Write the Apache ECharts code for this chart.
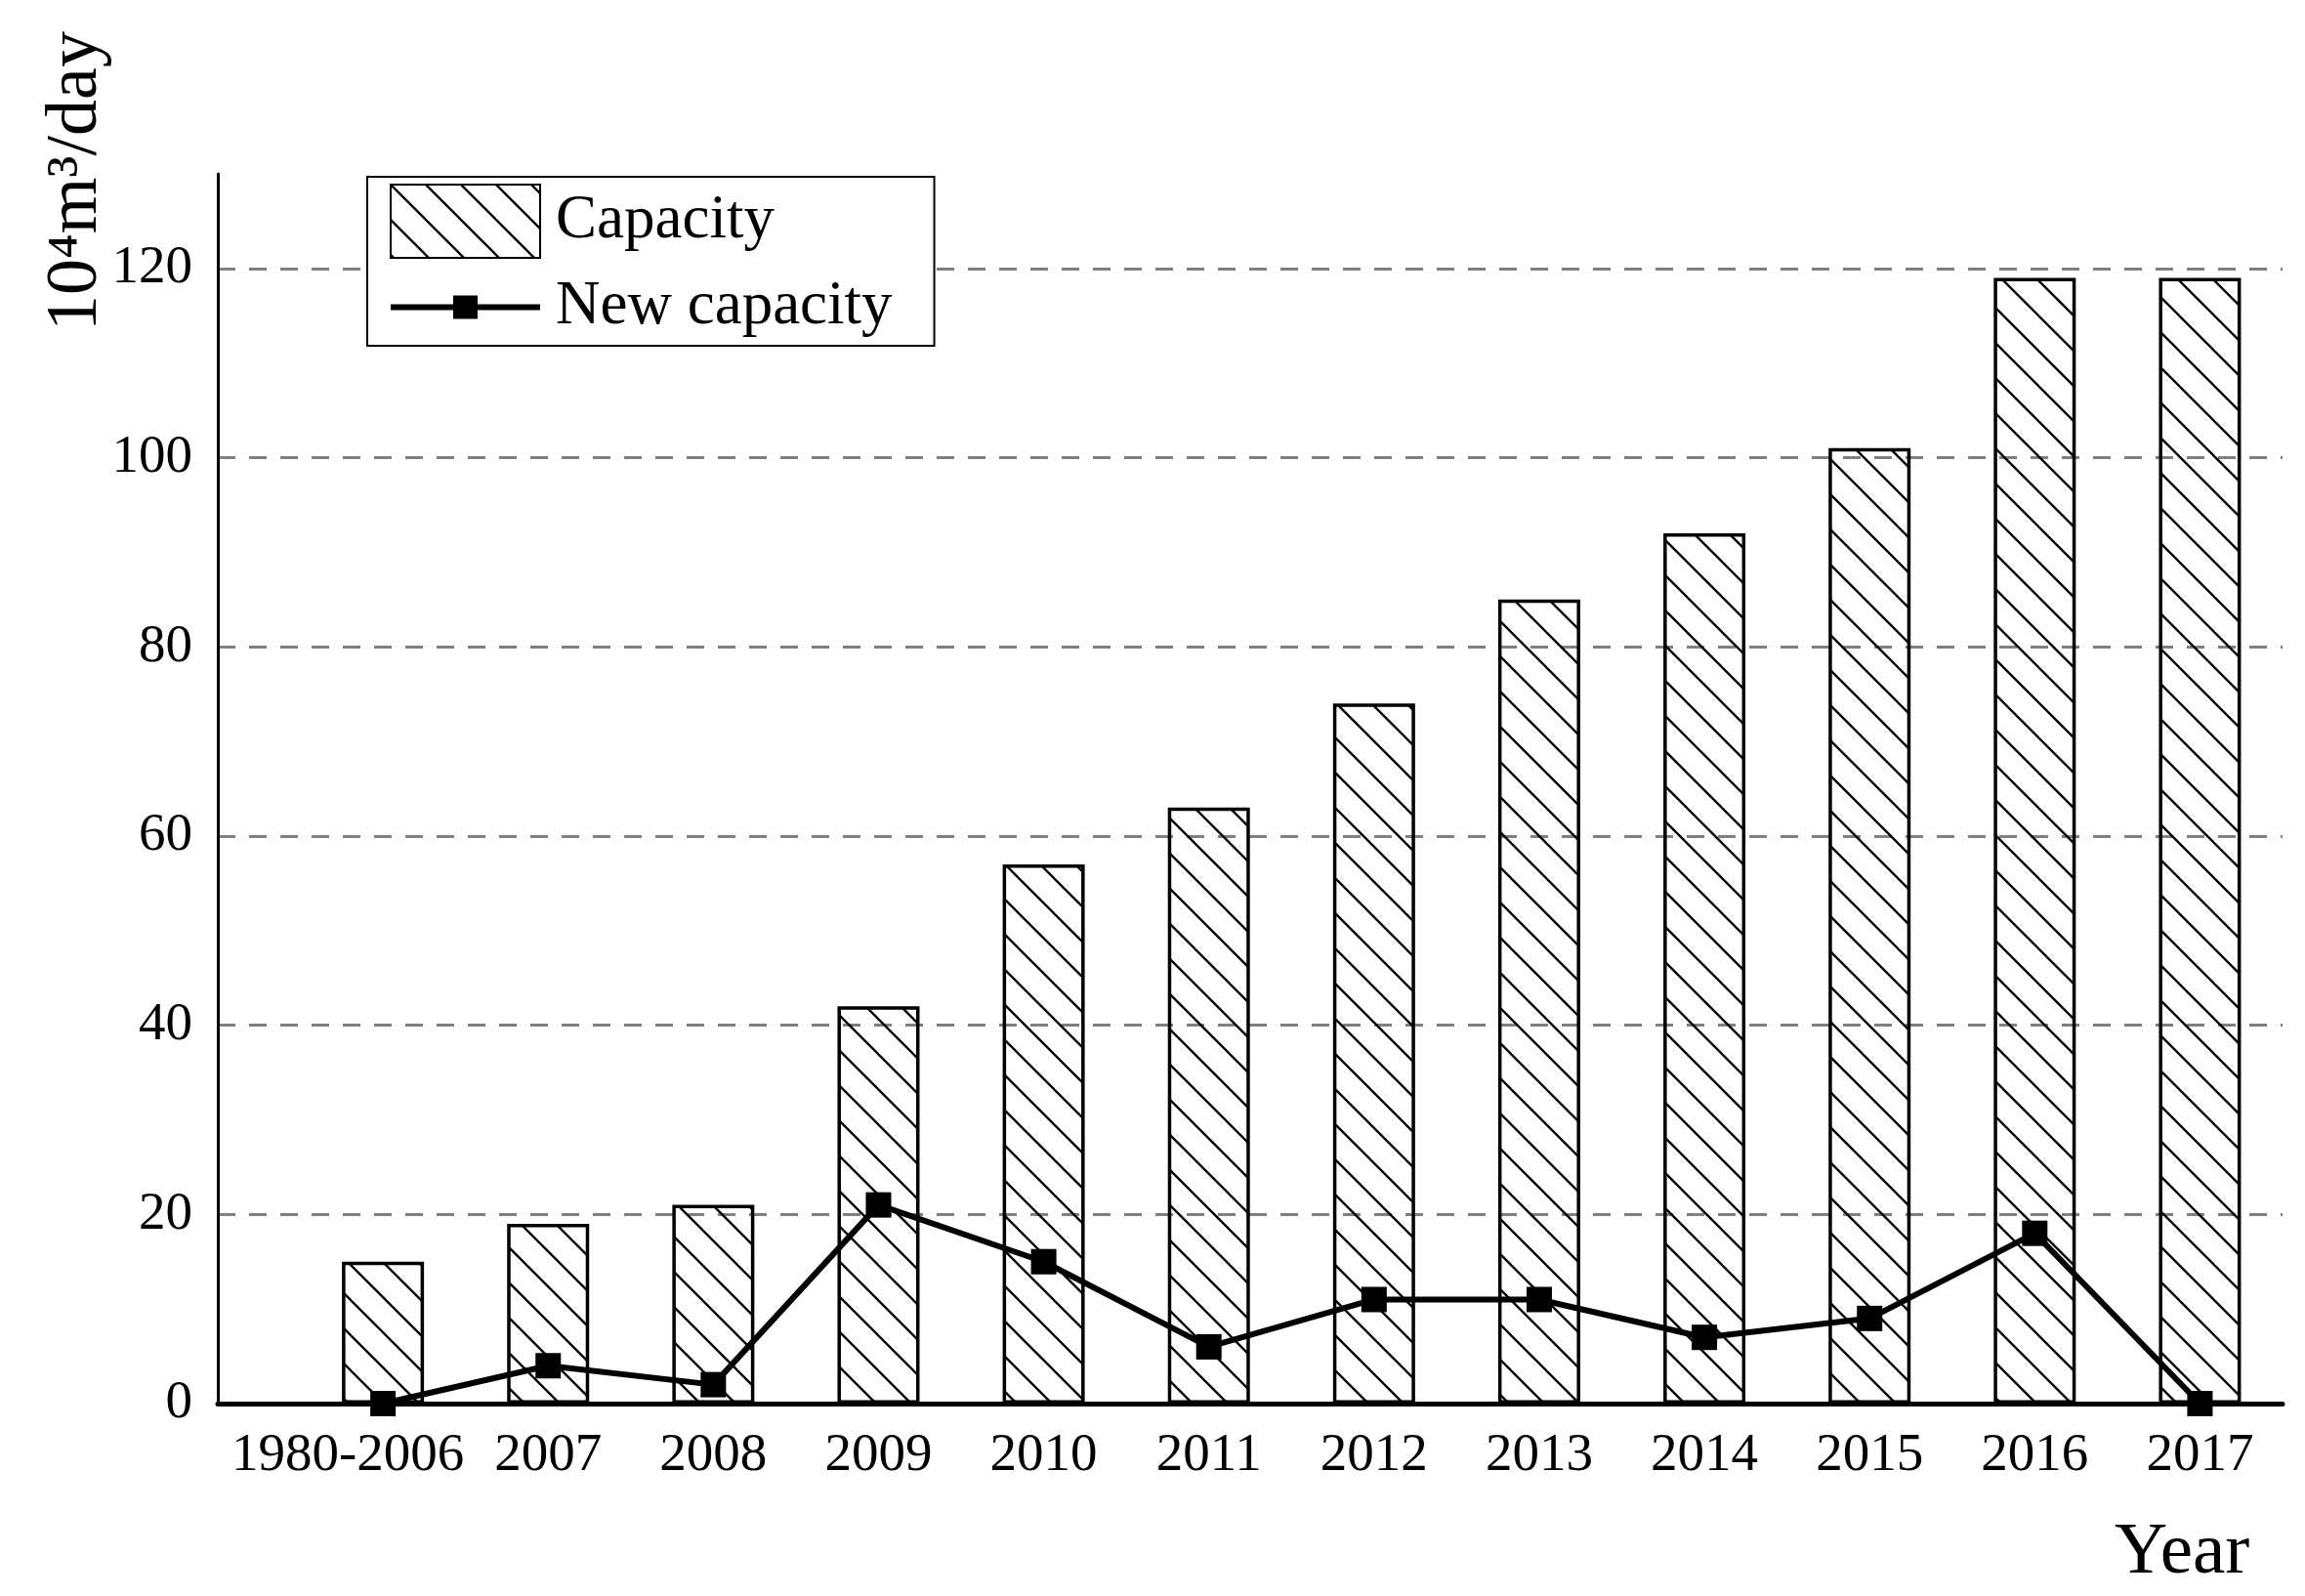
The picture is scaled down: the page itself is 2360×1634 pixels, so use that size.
<!DOCTYPE html>
<html><head><meta charset="utf-8">
<script src="https://cdn.jsdelivr.net/npm/echarts@6/dist/echarts.min.js"></script>
<style>html,body{margin:0;padding:0;background:#fff}#c{width:2360px;height:1634px}</style>
</head><body><div id="c"></div>
<script>
const categories = ['1980-2006','2007','2008','2009','2010','2011','2012','2013','2014','2015','2016','2017'];
const capacity = [15,19,21,42,57,63,74,85,92,101,119,119];
const newCapacity = [0,4,2,21,15,6,11,11,7,9,18,0];

const FONT = '"Liberation Serif","DejaVu Serif",serif';

// hatch pattern "\\\"
const pc = document.createElement('canvas');
pc.width = 36; pc.height = 36;
const g = pc.getContext('2d');
g.strokeStyle = '#000'; g.lineWidth = 2.4;
for (let k = -1; k <= 1; k++) {
  g.beginPath(); g.moveTo(k*36 - 2, -2); g.lineTo(k*36 + 38, 38); g.stroke();
}

const chart = echarts.init(document.getElementById('c'));
chart.setOption({
  backgroundColor: '#fff',
  animation: false,
  grid: { left: 223, right: 23, top: 178, bottom: 197, containLabel: false, outerBoundsMode: 'none' },
  legend: {
    left: 376, top: 181, orient: 'vertical',
    borderColor: '#000', borderWidth: 2, backgroundColor: '#fff',
    padding: [7, 43, 8, 23], itemGap: 18, itemWidth: 153, itemHeight: 75,
    textStyle: { fontFamily: FONT, fontSize: 63, color: '#000', padding: [0,0,0,11] },
    data: [
      { name: 'Capacity', icon: 'rect' },
      { name: 'New capacity', icon: 'path://M0,9h153v6H0z M64,0h25v24H64z' }
    ]
  },
  xAxis: {
    type: 'value', min: -1, max: 11.5, interval: 1,
    name: 'Year', nameLocation: 'end', nameGap: -172, nameMoveOverlap: false,
    nameTextStyle: { fontFamily: FONT, fontSize: 75, color: '#000', verticalAlign: 'top', lineHeight: 306 },
    axisLine: { onZero: false, lineStyle: { color: '#000', width: 5 } },
    axisTick: { show: false },
    splitLine: { show: false },
    axisLabel: {
      fontFamily: FONT, fontSize: 55, color: '#000', margin: 26,
      showMinLabel: true, showMaxLabel: true, hideOverlap: false,
      formatter: v => {
        if (!(Number.isInteger(v) && v >= 0 && v < categories.length)) return '';
        return v === 0 ? '{f|' + categories[v] + '}' : categories[v];
      },
      rich: { f: { fontFamily: FONT, fontSize: 55, color: '#000', padding: [0, 72, 0, 0] } }
    }
  },
  yAxis: {
    type: 'value', min: 0, max: 130, interval: 20,
    name: '10\u2074m\u00b3/day', nameLocation: 'end', nameRotate: 90, nameGap: -161, nameMoveOverlap: false,
    nameTextStyle: { fontFamily: FONT, fontSize: 74, color: '#000', verticalAlign: 'bottom', lineHeight: 288 },
    axisLine: { show: true, onZero: false, lineStyle: { color: '#000', width: 3 } },
    axisTick: { show: false },
    axisLabel: {
      fontFamily: FONT, fontSize: 55, color: '#000', margin: 26,
      formatter: v => (v % 20 === 0) ? String(v) : ''
    },
    splitLine: {
      show: true, showMinLine: false, showMaxLine: false,
      lineStyle: { color: '#808080', width: 3, type: [18, 14] }
    }
  },
  series: [
    {
      name: 'Capacity', type: 'bar', barWidth: 84, z: 2,
      data: capacity.map((v, i) => [i, v]),
      itemStyle: { color: { image: pc, repeat: 'repeat' }, borderColor: '#000', borderWidth: 3.5 }
    },
    {
      name: 'New capacity', type: 'line', z: 5,
      data: newCapacity.map((v, i) => [i, v]),
      symbol: 'rect', symbolSize: 26,
      lineStyle: { color: '#000', width: 6 },
      itemStyle: { color: '#000' }
    }
  ]
});
</script></body></html>
